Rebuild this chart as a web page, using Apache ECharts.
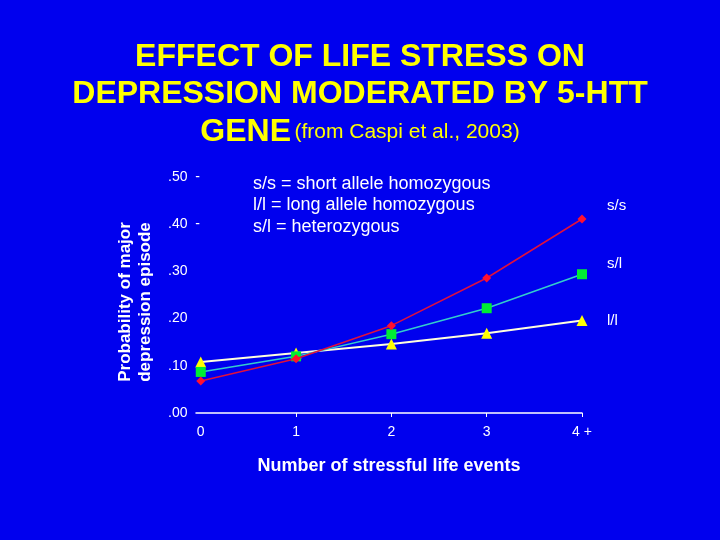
<!DOCTYPE html>
<html>
<head>
<meta charset="utf-8">
<script src="https://cdn.jsdelivr.net/npm/echarts@6/dist/echarts.min.js"></script>
<style>
  html, body { margin: 0; padding: 0; background: #0000ee; }
  #chart-container { width: 720px; height: 540px; }
</style>
</head>
<body>
<div id="chart-container"></div>
<script>
// stressful life events (x) and probability per genotype
var events = [0, 1, 2, 3, 4];
var eventLabels = ['0', '1', '2', '3', '4 +'];
var ssValues = [0.068, 0.115, 0.185, 0.286, 0.411];
var slValues = [0.087, 0.120, 0.167, 0.222, 0.294];
var llValues = [0.108, 0.127, 0.146, 0.169, 0.196];
var yTicks = [0, 0.1, 0.2, 0.3, 0.4, 0.5];

function pairs(vals) {
  return events.map(function (e, i) { return [e, vals[i]]; });
}

var dom = document.getElementById('chart-container');
var myChart = echarts.init(dom, null, { renderer: 'canvas' });

var endLabelStyle = { color: '#ffffff', fontFamily: 'Liberation Sans', fontSize: 15, distance: 0 };

var option = {
  backgroundColor: '#0000ee',
  animation: false,
  grid: { left: 196, right: 138, top: 177, bottom: 127 },
  xAxis: {
    type: 'value',
    min: -0.05,
    max: 4,
    name: 'Number of stressful life events',
    nameLocation: 'middle',
    nameGap: 44,
    nameTextStyle: { color: '#ffffff', fontFamily: 'Liberation Sans', fontSize: 18, fontWeight: 'bold' },
    axisLine: { show: true, lineStyle: { color: '#ffffff', width: 1.5 } },
    axisTick: { show: true, customValues: [1, 2, 3, 4], length: 4, lineStyle: { color: '#ffffff' } },
    axisLabel: {
      customValues: events,
      margin: 12,
      color: '#ffffff',
      fontFamily: 'Liberation Sans',
      fontSize: 14,
      formatter: function (v) { return eventLabels[events.indexOf(v)]; }
    },
    splitLine: { show: false }
  },
  yAxis: {
    type: 'value',
    min: 0,
    max: 0.5,
    interval: 0.1,
    axisLine: { show: false },
    axisTick: { show: false },
    splitLine: { show: false },
    axisLabel: {
      customValues: yTicks,
      align: 'left',
      margin: 28,
      color: '#ffffff',
      fontFamily: 'Liberation Sans',
      fontSize: 14,
      formatter: function (v) {
        var s = '.' + (Math.round(v * 100) < 10 ? '0' : '') + Math.round(v * 100);
        return v >= 0.35 ? s + '  -' : s;
      }
    }
  },
  graphic: [
    {
      type: 'text',
      x: 360,
      y: 38,
      style: {
        text: '{b|EFFECT OF LIFE STRESS ON}\n{b|DEPRESSION MODERATED BY 5-HTT}\n{b|GENE} {s|(from Caspi et al., 2003)}',
        align: 'center',
        rich: {
          b: { fontFamily: 'Liberation Sans', fontSize: 32, fontWeight: 'bold', fill: '#ffff00', lineHeight: 37.5 },
          s: { fontFamily: 'Liberation Sans', fontSize: 21, fontWeight: 'normal', fill: '#ffff00', lineHeight: 37.5 }
        }
      }
    },
    {
      // y axis title, placed as rotated text
      type: 'text',
      x: 135,
      y: 302,
      rotation: Math.PI / 2,
      style: {
        text: 'Probability of major\ndepression episode',
        align: 'center',
        verticalAlign: 'middle',
        fill: '#ffffff',
        font: 'bold 17px "Liberation Sans"',
        lineHeight: 20
      }
    },
    {
      type: 'text',
      left: 253,
      top: 173,
      style: {
        text: 's/s = short allele homozygous\nl/l = long allele homozygous\ns/l = heterozygous',
        fill: '#ffffff',
        font: '18px "Liberation Sans"',
        lineHeight: 21.5
      }
    }
  ],
  series: [
    {
      name: 's/s',
      type: 'line',
      data: pairs(ssValues),
      symbol: 'diamond',
      symbolSize: 9,
      itemStyle: { color: '#ff1030' },
      lineStyle: { color: '#e0103c', width: 1.5 },
      endLabel: Object.assign({ show: true, formatter: 's/s', offset: [25, -13] }, endLabelStyle),
      z: 3
    },
    {
      name: 's/l',
      type: 'line',
      data: pairs(slValues),
      symbol: 'rect',
      symbolSize: 10,
      itemStyle: { color: '#00ee33' },
      lineStyle: { color: '#33cccc', width: 1.5 },
      endLabel: Object.assign({ show: true, formatter: 's/l', offset: [25, -10] }, endLabelStyle),
      z: 2
    },
    {
      name: 'l/l',
      type: 'line',
      data: pairs(llValues),
      symbol: 'triangle',
      symbolSize: 11,
      itemStyle: { color: '#ffff00' },
      lineStyle: { color: '#ffffdd', width: 2 },
      endLabel: Object.assign({ show: true, formatter: 'l/l', offset: [25, 0] }, endLabelStyle),
      z: 1
    }
  ]
};

myChart.setOption(option);
window.addEventListener('resize', myChart.resize);
</script>
</body>
</html>
